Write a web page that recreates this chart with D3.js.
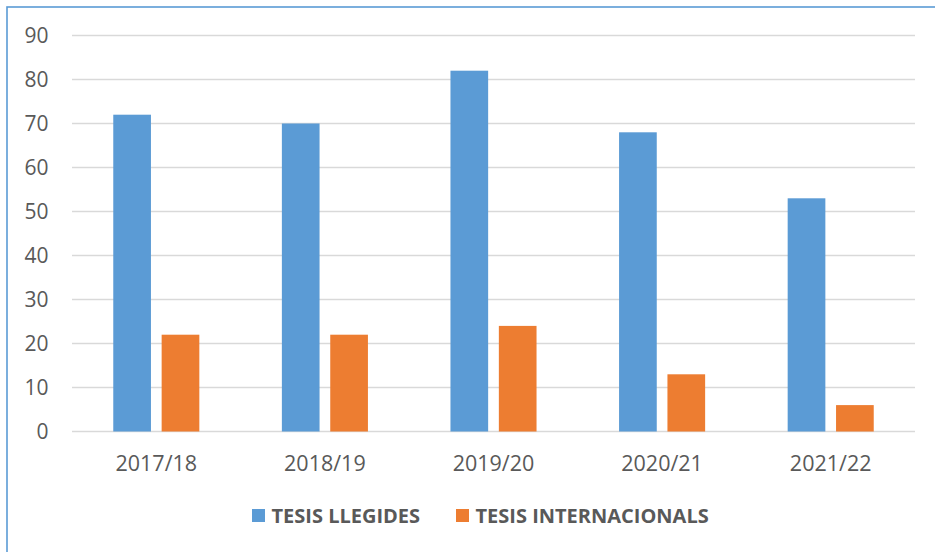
<!DOCTYPE html>
<html>
<head>
<meta charset="utf-8">
<script src="https://cdn.jsdelivr.net/npm/d3@7/dist/d3.min.js"></script>
<style>
  html, body { margin: 0; padding: 0; background: #fff; }
  svg { display: block; }
</style>
</head>
<body>
<svg id="chart" width="935" height="552"></svg>
<script>
// Academic years and the two thesis counts per year
const years = ["2017/18", "2018/19", "2019/20", "2020/21", "2021/22"];
const seriesNames = ["TESIS LLEGIDES", "TESIS INTERNACIONALS"];
const llegides = [72, 70, 82, 68, 53];
const internacionals = [22, 22, 24, 13, 6];
const yTicks = [0, 10, 20, 30, 40, 50, 60, 70, 80, 90];
const colors = ["#5B9BD5", "#ED7D31"];

const rows = years.map((y, i) => ({ year: y, values: [llegides[i], internacionals[i]] }));

const svg = d3.select("#chart");
const W = 935, H = 552;
const textColor = "#595959";
const font = "'Open Sans', 'Liberation Sans', sans-serif";

// Frame: only the top and left edges fall inside the view
svg.append("rect")
  .attr("x", 7).attr("y", 7)
  .attr("width", W + 20).attr("height", H + 20)
  .attr("fill", "none")
  .attr("stroke", "#5B9BD5")
  .attr("stroke-width", 1.6);

const plot = { left: 72, right: 915, top: 35.5, bottom: 431.5 };

const x0 = d3.scaleBand().domain(years).range([plot.left, plot.right]).padding(0);
const x1 = d3.scaleBand().domain([0, 1]).range([0, x0.bandwidth()])
  .paddingInner(0.221).paddingOuter(0.853);
const y = d3.scaleLinear().domain([0, 90]).range([plot.bottom, plot.top]);

// Horizontal gridlines
svg.append("g").selectAll("line")
  .data(yTicks)
  .join("line")
  .attr("x1", plot.left).attr("x2", plot.right)
  .attr("y1", d => y(d)).attr("y2", d => y(d))
  .attr("stroke", "#D9D9D9")
  .attr("stroke-width", 1.5);

// Y-axis labels
svg.append("g").selectAll("text")
  .data(yTicks)
  .join("text")
  .attr("x", 48.5)
  .attr("y", d => y(d))
  .attr("dy", "0.36em")
  .attr("text-anchor", "end")
  .attr("font-family", font)
  .attr("font-size", 21)
  .attr("fill", textColor)
  .text(d => d);

// Bars
const groups = svg.append("g").selectAll("g")
  .data(rows)
  .join("g")
  .attr("transform", d => `translate(${x0(d.year)},0)`);

groups.selectAll("rect")
  .data(d => d.values.map((v, k) => ({ k, v })))
  .join("rect")
  .attr("x", d => x1(d.k))
  .attr("width", x1.bandwidth())
  .attr("y", d => y(d.v))
  .attr("height", d => y(0) - y(d.v))
  .attr("fill", d => colors[d.k]);

// X-axis labels
svg.append("g").selectAll("text")
  .data(years)
  .join("text")
  .attr("x", d => x0(d) + x0.bandwidth() / 2)
  .attr("y", 471)
  .attr("text-anchor", "middle")
  .attr("font-family", font)
  .attr("font-size", 21.5)
  .attr("fill", textColor)
  .text(d => d);

// Legend
const legendItems = [
  { name: seriesNames[0], color: colors[0], sx: 252 },
  { name: seriesNames[1], color: colors[1], sx: 456 }
];
const lg = svg.append("g");
legendItems.forEach(it => {
  lg.append("rect")
    .attr("x", it.sx).attr("y", 509)
    .attr("width", 13).attr("height", 13)
    .attr("fill", it.color);
  lg.append("text")
    .attr("x", it.sx + 19.5)
    .attr("y", 515.5)
    .attr("dy", "0.36em")
    .attr("font-family", font)
    .attr("font-weight", "bold")
    .attr("font-size", 20)
    .attr("fill", textColor)
    .text(it.name);
});
</script>
</body>
</html>
